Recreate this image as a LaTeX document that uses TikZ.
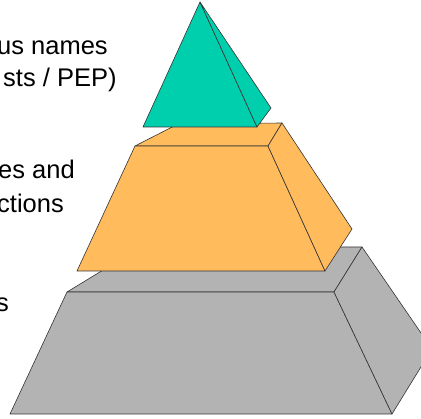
\documentclass[tikz,border=0pt]{standalone}
\usepackage{fontspec}
\setmainfont{Liberation Sans}

\definecolor{tealfill}{HTML}{00CFAE}
\definecolor{orangefill}{HTML}{FFBB5C}
\definecolor{grayfill}{HTML}{B3B3B3}

\tikzset{
  face/.style={draw=black!80, line width=0.6pt, line join=round},
  lbl/.style={anchor=base west, inner sep=0pt, font=\fontsize{25.5}{30}\selectfont}
}

\begin{document}
\begin{tikzpicture}[x=1pt,y=-1pt]
  \useasboundingbox (0,0) rectangle (421,419);
  \clip (0,0) rectangle (421,419);

  % bottom block
  \draw[face, fill=grayfill] (141,247) -- (362,247) -- (334,292) -- (67,292) -- cycle;
  \draw[face, fill=grayfill] (67,292) -- (334,292) -- (392,414) -- (10,414) -- cycle;
  \draw[face, fill=grayfill] (334,292) -- (362,247) -- (432,349) -- (392,414) -- cycle;

  % middle block
  \draw[face, fill=orangefill] (178,124) -- (282,123) -- (268,146) -- (135,146) -- cycle;
  \draw[face, fill=orangefill] (135,146) -- (268,146) -- (325,271) -- (77,271) -- cycle;
  \draw[face, fill=orangefill] (268,146) -- (282,123) -- (352,229) -- (325,271) -- cycle;

  % top
  \draw[face, fill=tealfill] (200,2) -- (257,127) -- (143,127) -- cycle;
  \draw[face, fill=tealfill] (200,2) -- (271,108) -- (257,127) -- cycle;

  \node[lbl] (toptxta) at (-3,55) {us names};
  \node[lbl] (toptxtb) at (3,87) {sts / PEP)};
  \node[lbl] (midtxta) at (-2,179) {es and};
  \node[lbl] (midtxtb) at (-3,213) {ctions};
  \node[lbl, anchor=base east] (bottxt) at (9,312) {s};
\end{tikzpicture}
\end{document}
